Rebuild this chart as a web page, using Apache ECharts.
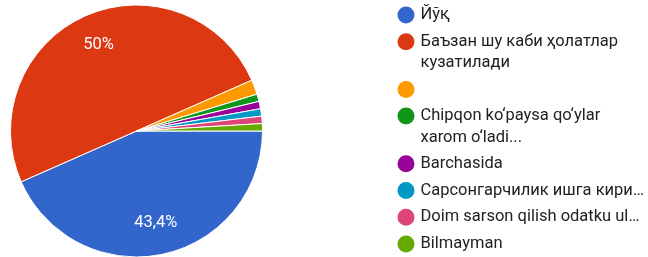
<!DOCTYPE html>
<html>
<head>
<meta charset="utf-8">
<script src="https://cdn.jsdelivr.net/npm/echarts@6/dist/echarts.min.js"></script>
<style>
  html, body { margin: 0; padding: 0; background: #fff; }
  #chart { width: 648px; height: 257px; }
</style>
</head>
<body>
<div id="chart"></div>
<script>
// answers as they appear in the legend (\n = wrapped line)
const categories = [
  'Йўқ',
  'Баъзан шу каби ҳолатлар\nкузатилади',
  ' ',
  'Chipqon ko‘paysa qo‘ylar\nxarom o‘ladi...',
  'Barchasida',
  'Сарсонгарчилик ишга кири…',
  'Doim sarson qilish odatku ul…',
  'Bilmayman'
];
// number of responses
const values = [46, 53, 2, 1, 1, 1, 1, 1];
const colors = ['#3366cc', '#dc3912', '#ff9900', '#109618', '#990099', '#0099c6', '#dd4477', '#66aa00'];

const font = 'Roboto, Arial, sans-serif';
const total = values.reduce((a, b) => a + b, 0);
const data = categories.map((name, i) => ({ value: values[i], name: name }));

// une leyenda por elemento para controlar las líneas partidas
const lineH = 21.5;
const legends = [];
let y = 15;
categories.forEach((name, i) => {
  const n = name.split('\n').length;
  legends.push({
    left: 395.5,
    top: y - (2 * n - 1) * lineH / 2,
    padding: 0,
    orient: 'vertical',
    icon: 'circle',
    itemWidth: 19,
    itemHeight: 19,
    selectedMode: false,
    data: [name],
    // líneas vacías delante para que la primera línea quede junto al círculo
    formatter: t => '\n'.repeat(n - 1) + t,
    textStyle: {
      fontFamily: font,
      fontSize: 16.5,
      color: '#222',
      lineHeight: lineH
    }
  });
  y += 26.7 + (n - 1) * 21;
});

const pct = v => {
  const p = v / total * 100;
  if (p < 5) return '';
  return p.toFixed(1).replace(/\.0$/, '').replace('.', ',') + '%';
};

const opciones = {
  animation: false,
  color: colors,
  legend: legends,
  series: [
    {
      type: 'pie',
      center: [136.5, 131],
      radius: 126,
      startAngle: 0,
      clockwise: true,
      silent: true,
      label: { show: false },
      labelLine: { show: false },
      itemStyle: { borderColor: '#fff', borderWidth: 1 },
      data: data
    },
    {
      // anillo transparente solo para colocar las etiquetas
      type: 'pie',
      center: [136.5, 131],
      radius: [56, 126],
      startAngle: 0,
      clockwise: true,
      silent: true,
      itemStyle: { color: 'transparent', borderWidth: 0 },
      label: {
        show: true,
        position: 'inside',
        color: '#fff',
        fontFamily: font,
        fontSize: 16.5,
        formatter: p => pct(p.value)
      },
      labelLine: { show: false },
      data: data
    }
  ]
};

const miGrafico = echarts.init(document.getElementById('chart'));
miGrafico.setOption(opciones);
</script>
</body>
</html>
